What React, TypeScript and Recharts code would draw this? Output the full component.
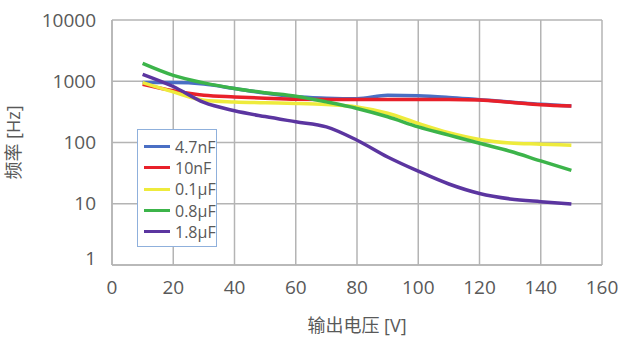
import React from 'react';
import { LineChart, Line, XAxis, YAxis, CartesianGrid, Label } from 'recharts';

const voltages = [10, 20, 30, 40, 50, 60, 70, 80, 90, 100, 110, 120, 130, 140, 150];

const f47nF = [950, 950, 900, 760, 640, 556, 530, 520, 590, 580, 545, 500, 460, 420, 395];
const f10nF = [890, 700, 590, 555, 530, 510, 505, 505, 505, 505, 505, 495, 455, 415, 395];
const f01uF = [950, 670, 490, 460, 445, 435, 417, 380, 300, 205, 145, 112, 98, 94, 90];
const f08uF = [1960, 1250, 940, 760, 650, 570, 460, 360, 263, 180, 132, 97, 72, 50, 35];
const f18uF = [1300, 820, 450, 330, 265, 218, 180, 109, 58, 34, 21, 14.7, 12, 10.8, 9.9];

const xTicks = [0, 20, 40, 60, 80, 100, 120, 140, 160];
const yTicks = [1, 10, 100, 1000, 10000];

const seriesNames = ['4.7nF', '10nF', '0.1µF', '0.8µF', '1.8µF'];
const seriesColors = ['#4a6fc4', '#e8202a', '#eeeb3c', '#3cb44a', '#5b35a0'];

const data = voltages.map((v, i) => ({
  v,
  s0: f47nF[i],
  s1: f10nF[i],
  s2: f01uF[i],
  s3: f08uF[i],
  s4: f18uF[i],
}));

const font = "'Open Sans', 'Noto Sans CJK SC', sans-serif";
const textColor = '#595959';
const gridColor = '#b4b4b4';

// the "1" label sits a bit above the bottom axis so it clears the "0"
function YTick(props: any) {
  const { x, y, payload } = props;
  const lift = payload.value === 1 ? -7 : 0;
  return (
    <text
      x={x}
      y={y + lift}
      dy="0.355em"
      textAnchor="end"
      fill={textColor}
      fontSize={19}
      fontFamily={font}
    >
      {payload.value}
    </text>
  );
}

// legend sits inside the plot, drawn as plain html over the chart
function LegendBox() {
  return (
    <div
      style={{
        position: 'absolute',
        left: 137,
        top: 129,
        border: '1px solid #8fb0dc',
        background: '#fff',
        width: 78,
        padding: '6px 0 4px 0',
        fontFamily: font,
        fontSize: 16,
        color: textColor,
      }}
    >
      {seriesNames.map((name, i) => (
        <div key={name} style={{ display: 'flex', alignItems: 'center', height: 21.3 }}>
          <div style={{ width: 26, height: 3, background: seriesColors[i], marginLeft: 6, marginRight: 5 }} />
          <span>{name}</span>
        </div>
      ))}
    </div>
  );
}

export default function App() {
  return (
    <div style={{ position: 'absolute', left: 0, top: 0, width: 632, height: 353, background: '#fff' }}>
      <LineChart width={632} height={353} data={data} margin={{ top: 20, right: 30, left: 0, bottom: 0 }}>
        <CartesianGrid stroke={gridColor} strokeWidth={1.5} />
        <XAxis
          dataKey="v"
          type="number"
          domain={[0, 160]}
          ticks={xTicks}
          height={88}
          tickLine={false}
          axisLine={{ stroke: gridColor, strokeWidth: 1.5 }}
          tickMargin={10}
          tick={{ fill: textColor, fontSize: 19, fontFamily: font }}
          interval={0}
        >
          <Label
            value="输出电压 [V]"
            position="insideBottom"
            offset={21}
            style={{ fill: textColor, fontSize: 18, fontFamily: font }}
          />
        </XAxis>
        <YAxis
          type="number"
          scale="log"
          domain={[1, 10000]}
          ticks={yTicks}
          allowDataOverflow
          width={112}
          tickLine={false}
          axisLine={{ stroke: gridColor, strokeWidth: 1.5 }}
          tickMargin={10}
          tick={<YTick />}
          interval={0}
        >
          <Label
            value="频率 [Hz]"
            angle={-90}
            position="insideLeft"
            offset={14}
            style={{ fill: textColor, fontSize: 18, fontFamily: font, textAnchor: 'middle' }}
          />
        </YAxis>
        {seriesNames.map((name, i) => (
          <Line
            key={name}
            name={name}
            dataKey={`s${i}`}
            type="monotone"
            stroke={seriesColors[i]}
            strokeWidth={3.5}
            dot={false}
            isAnimationActive={false}
          />
        ))}
      </LineChart>
      <LegendBox />
    </div>
  );
}
